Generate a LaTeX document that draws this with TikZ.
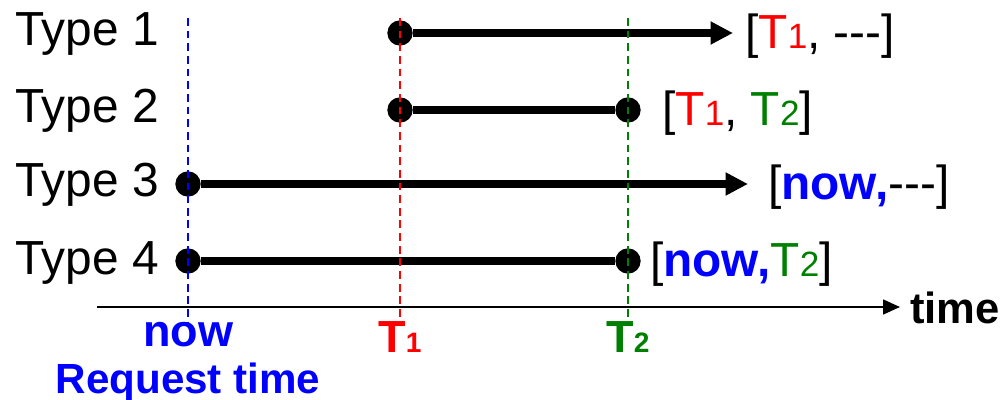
\documentclass[tikz,border=0pt]{standalone}
\usepackage{fontspec}
\setmainfont{Liberation Sans}
\usetikzlibrary{arrows.meta, positioning}
\definecolor{tgreen}{RGB}{0,128,0}
\newcommand{\smdig}[2]{{\fontsize{#1}{#1}\selectfont #2}}

\begin{document}
\begin{tikzpicture}[x=0.025cm, y=-0.025cm,
  every node/.style={inner sep=0pt},
  dot/.style={circle, fill=black, minimum size=18pt},
  bar/.style={line width=5.8pt},
  guide/.style={line width=1.2pt, dash pattern=on 5.5pt off 3.5pt},
  typelabel/.style={anchor=base west, font=\fontsize{34}{40}\selectfont},
  span/.style={anchor=base west, font=\fontsize{34}{40}\selectfont},
  tick/.style={anchor=base, font=\bfseries\fontsize{32}{38}\selectfont}]
\useasboundingbox (0,0) rectangle (1001,400);
% row labels
\node[typelabel] (type1) at (15,46) {Type 1};
\node[typelabel] (type2) at (15,123) {Type 2};
\node[typelabel] (type3) at (15,197) {Type 3};
\node[typelabel] (type4) at (15,274) {Type 4};
% end points
\node[dot] (d1s) at (400,33) {};
\node[dot] (d2s) at (400,110) {};
\node[dot] (d2e) at (628,110) {};
\node[dot] (d3s) at (188,184) {};
\node[dot] (d4s) at (188,261) {};
\node[dot] (d4e) at (628,261) {};
\coordinate (e1) at (733,33);
\coordinate (e3) at (748,184);
% intervals
\draw[bar, -{Triangle[length=16pt, width=15.5pt]}] (d1s) -- (e1);
\draw[bar] (d2s) -- (d2e);
\draw[bar, -{Triangle[length=16pt, width=15.5pt]}] (d3s) -- (e3);
\draw[bar] (d4s) -- (d4e);
\node[span] (s1) at (745,49) {[\textcolor{red}{T\smdig{25}{1}}, -{}-{}-]};
\node[span] (s2) at (662,126) {[\textcolor{red}{T\smdig{25}{1}}, \textcolor{tgreen}{T\smdig{25}{2}}]};
\node[span] (s3) at (768,200) {[\textcolor{blue}{\bfseries now,}-{}-{}-]};
\node[span] (s4) at (650,277) {[\textcolor{blue}{\bfseries now,}\textcolor{tgreen}{T\smdig{25}{2}}]};
% time axis
\coordinate (t0) at (97,307);
\coordinate (t1) at (900,307);
\draw[line width=1.4pt, -{Triangle[length=12pt, width=10.5pt]}] (t0) -- (t1);
\node[anchor=base west, font=\bfseries\fontsize{31}{38}\selectfont] (time) at (910,323) {time};
\node[tick, blue] (now) at (188,347) {now};
\node[anchor=base, blue, font=\bfseries\fontsize{30}{34}\selectfont] (req) at (188,393) {Request time};
\node[tick, red] (T1) at (400,352) {T\smdig{20}{1}};
\node[tick, tgreen] (T2) at (628,352) {T\smdig{20}{2}};
% guides
\coordinate (g0) at (188,18);
\coordinate (g1) at (400,18);
\coordinate (g2) at (628,18);
\draw[guide, blue] (g0) -- (now.north);
\draw[guide, red] (g1) -- (T1.north);
\draw[guide, tgreen] (g2) -- (T2.north);
\end{tikzpicture}
\end{document}
